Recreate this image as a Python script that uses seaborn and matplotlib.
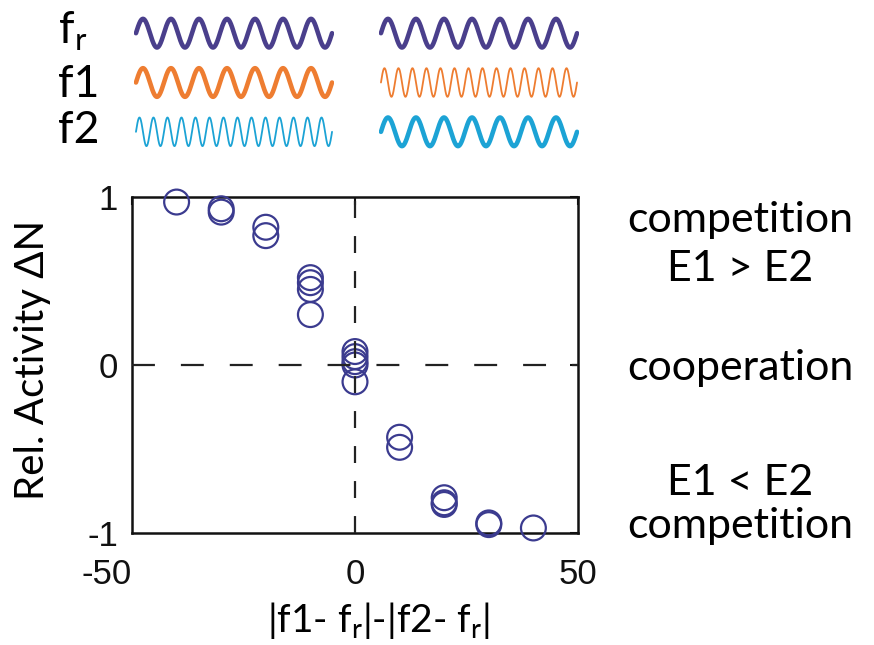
import numpy as np
import pandas as pd
import matplotlib
matplotlib.use("Agg")
import matplotlib.pyplot as plt
import seaborn as sns

# values
freq_diff = [-40, -30, -30, -20, -20, -10, -10, -10, -10,
             0, 0, 0, 0, 0, 10, 10, 20, 20, 20, 30, 30, 40]
rel_activity = [0.97, 0.93, 0.91, 0.82, 0.77, 0.52, 0.49, 0.45, 0.30,
                0.08, 0.05, 0.02, 0.00, -0.10, -0.43, -0.49,
                -0.79, -0.82, -0.83, -0.94, -0.95, -0.97]

x_ticks = [-50, 0, 50]
y_ticks = [-1, 0, 1]

# little wave legend on top: cycles per panel (left / right column)
wave_names = ["f$_\\mathregular{r}$", "f1", "f2"]
wave_colors = ["#4a3f8c", "#ee7d31", "#1ca3d5"]
cycles_left = [7, 7, 14]
cycles_right = [7, 14, 7]

side_labels = ["competition", "E1 > E2", "cooperation", "E1 < E2", "competition"]

TXT_FONT = ["Lato", "DejaVu Sans"]
NUM_FONT = ["Liberation Sans", "DejaVu Sans"]
DOT_COLOR = "#3b3b8f"

sns.set_theme(style="white")
plt.rcParams["font.family"] = TXT_FONT
plt.rcParams["text.color"] = "black"
plt.rcParams["mathtext.fontset"] = "custom"
plt.rcParams["mathtext.rm"] = "Lato"
plt.rcParams["lines.scale_dashes"] = False

W, H = 874, 645
fig = plt.figure(figsize=(W / 100, H / 100), dpi=100)


def fx(px):
    return px / W


def fy(px):
    return 1 - px / H


# ---- main scatter ----
ax = fig.add_axes([fx(132), fy(533), fx(578) - fx(132), fy(197) - fy(533)])
sns.scatterplot(x=freq_diff, y=rel_activity, ax=ax, marker="o", s=320,
                color=DOT_COLOR, facecolors="none", edgecolor=DOT_COLOR,
                linewidth=1.6, clip_on=False, legend=False, zorder=3)
ax.axhline(0, color="#222222", lw=1.6, dashes=(16.5, 18.7), zorder=4)
ax.axvline(0, color="#222222", lw=1.6, dashes=(12.2, 13.0), zorder=4)

ax.set_xlim(-50, 50)
ax.set_ylim(-1, 1)
ax.set_xticks(x_ticks)
ax.set_yticks(y_ticks)
ax.set_xticklabels([str(v) for v in x_ticks])
ax.set_yticklabels([str(v) for v in y_ticks])
ax.tick_params(direction="in", length=6, width=1.5, top=True, right=True,
               labelsize=25, colors="#111111")
ax.tick_params(axis="x", pad=18)
ax.tick_params(axis="y", pad=10)
for lbl in ax.get_xticklabels() + ax.get_yticklabels():
    lbl.set_family(NUM_FONT)
ax.get_xticklabels()[0].set_ha("right")
for sp in ax.spines.values():
    sp.set_visible(True)
    sp.set_color("#111111")
    sp.set_linewidth(1.8)
ax.set_xlabel("")
ax.set_ylabel("")

fig.text(fx(33), fy(360), "Rel. Activity \u0394N", rotation=90,
         ha="center", va="center", fontsize=29)
fig.text(fx(378), fy(632),
         "|f1- f$_\\mathregular{r}$|-|f2- f$_\\mathregular{r}$|",
         ha="center", va="baseline", fontsize=28)

side_base = [232, 281, 380, 495, 538]
for txt, b in zip(side_labels, side_base):
    fig.text(fx(740), fy(b), txt, ha="center", va="baseline", fontsize=31)

# ---- wave legend ----
t = np.linspace(0, 1, 800)
row_y = [0, -1, -2]
for left_px, cycles in [(134, cycles_left), (379, cycles_right)]:
    wax = fig.add_axes([fx(left_px), fy(155), 200 / W, fy(10) - fy(155)])
    for name, col, cyc, ry in zip(wave_names, wave_colors, cycles, row_y):
        lw = 3.3 if cyc < 10 else 1.3
        wave = pd.DataFrame({"t": t, "v": ry + 0.29 * np.sin(2 * np.pi * cyc * t)})
        sns.lineplot(data=wave, x="t", y="v", ax=wax, color=col, lw=lw,
                     solid_capstyle="round")
    wax.set_xlim(-0.01, 1.01)
    wax.set_ylim(-2.47, 0.47)
    wax.axis("off")

for name, base in zip(wave_names, [44, 97, 143]):
    fig.text(fx(58), fy(base), name, ha="left", va="baseline", fontsize=32)

fig.savefig("out.png", dpi=100)
